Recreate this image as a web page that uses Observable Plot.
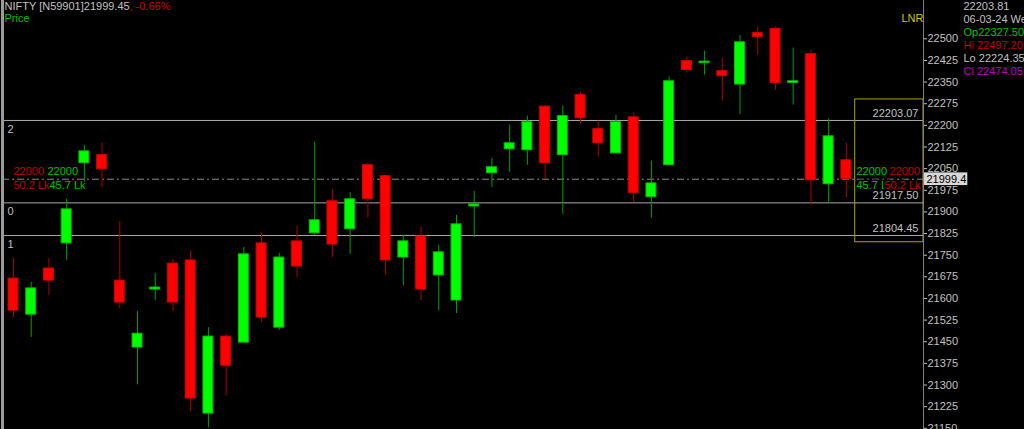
<!DOCTYPE html>
<html><head><meta charset="utf-8">
<script src="https://cdn.jsdelivr.net/npm/d3@7"></script>
<script src="https://cdn.jsdelivr.net/npm/@observablehq/plot@0.6"></script>
<style>html,body{margin:0;padding:0;background:#000;overflow:hidden}#chart svg{display:block}</style>
</head><body><div id="chart"></div>
<script>
// Daily candles (index 0..47)
const opens  = [21655,21530,21690,21777,22055,22083,21648,21416,21617,21707,21718,21187,21454,21433,21777,21485,21784,21812,21923,21826,22048,22010,21728,21801,21666,21579,21905,22020,22103,22100,22251,22083,22291,22173,22089,22214,21937,22048,22409,22402,22374,22327.5,22506,22520,22333,22433,21982,22065];
const highs  = [21725,21642,21725,21930,22117,22124,21853,21541,21673,21721,21753,21485,21461,21763,21812,21742,21836,22128,21964,21954,22055,22013,21805,21833,21770,21874,21957,22072,22187,22218,22255,22253,22301,22201,22221,22228,22062,22353,22423,22444,22419,22497.2,22527,22527,22454,22447,22208,22124];
const lows   = [21520,21451,21596,21718,21968,21971,21551,21287,21579,21541,21194,21138,21249,21431,21503,21475,21659,21805,21728,21739,21864,21666,21631,21579,21544,21534,21798,21971,22023,22048,21999,21878,22190,22076,22087,21919,21864,22046,22367,22360,22270,22224.35,22430,22308,22256,21909,21916,21933];
const closes = [21544,21621,21648,21895,22096,22034,21572,21464,21624,21572,21239,21454,21353,21739,21520,21728,21697,21857,21773,21930,21930,21718,21784,21617,21746,21843,21912,22041,22124,22197,22055,22218,22211,22124,22197,21951,21985,22339,22378,22407,22357,22474.05,22492,22333,22339,21996,22148,21999.45];

const levels = [22203.07, 21917.50, 21804.45];
const levelTags = ["2", "0", "1"];
const lastPrice = 21999.45;
const yTicks = [21150,21225,21300,21375,21450,21525,21600,21675,21750,21825,21900,21975,22050,22125,22200,22275,22350,22425,22500];
const boxRange = [21781, 22276];
const headerName = "NIFTY [N59901]21999.45";
const headerChange = ", -0.66%";
const infoLines = ["22203.81", "06-03-24 Wed", "Op22327.50", "Hi 22497.20", "Lo 22224.35", "Cl 22474.05"];
const infoColors = ["#c0c0c0", "#c0c0c0", "#00c000", "#c00000", "#c0c0c0", "#c000c0"];
const leftTags = [
  {t:"22000", c:"#c00000", dx:11, dy:-8},
  {t:"22000", c:"#00c000", dx:45, dy:-8},
  {t:"50.2 Lk", c:"#c00000", dx:11, dy:6},
  {t:"45.7 Lk", c:"#00c000", dx:47, dy:6}
];
const rightTags = [
  {t:"22000", c:"#00c000", dx:-67, dy:-8},
  {t:"22000", c:"#c00000", dx:-34, dy:-8},
  {t:"45.7 Lk", c:"#00c000", dx:-67, dy:6},
  {t:"50.2 Lk", c:"#c00000", dx:-39, dy:6}
];

const data = opens.map((o, i) => ({i, open:o, high:highs[i], low:lows[i], close:closes[i], up: closes[i] >= o}));
const xDomain = [-0.62, 51.354];
const hw = 0.28;

const tagMarks = (tags, anchor, sw) => tags.map(t => Plot.text([t], {
  y: () => lastPrice, text: "t", fill: "c", dx: t.dx, dy: t.dy, frameAnchor: anchor, textAnchor: "start",
  stroke: "#000", strokeWidth: sw, paintOrder: "stroke"}));

const chart = Plot.plot({
  width: 1024, height: 429,
  marginLeft: 2, marginRight: 101, marginTop: 0, marginBottom: 0,
  style: {background: "#000", fontFamily: "'Liberation Sans', Arial, sans-serif", fontSize: "11px", overflow: "visible"},
  x: {domain: xDomain, axis: null},
  y: {domain: [21150, 22500], range: [423.8, 34.3], axis: null},
  marks: [
    Plot.ruleY(levels, {stroke: "#a8a8a8", strokeWidth: 1}),
    Plot.ruleY([lastPrice], {stroke: "#8a8a8a", strokeDasharray: "7,3,2,3", strokeWidth: 1}),
    Plot.rect([boxRange], {x1: 47.5, x2: xDomain[1], y1: d => d[0], y2: d => d[1], fill: "none", stroke: "#b0a000", strokeWidth: 1}),
    Plot.ruleX(data, {x: "i", y1: "low", y2: "high", stroke: d => d.up ? "#00a000" : "#b00000", strokeWidth: 1}),
    Plot.rect(data, {x1: d => d.i - hw, x2: d => d.i + hw, y1: "open", y2: "close",
      fill: d => d.up ? "#00ff00" : "#ff0000", stroke: d => d.up ? "#00c000" : "#d00000", strokeWidth: 1}),
    Plot.text(levels, {y: d => d, text: d => d.toFixed(2), frameAnchor: "right", textAnchor: "end", dx: -5, dy: -7, fill: "#c0c0c0"}),
    Plot.text(levels, {y: d => d, text: (d, i) => levelTags[i], frameAnchor: "left", textAnchor: "start", dx: 5, dy: 9, fill: "#c0c0c0"}),
    ...tagMarks(leftTags, "left", 2),
    ...tagMarks(rightTags, "right", 3),
    Plot.frame({anchor: "right", stroke: "#808080"}),
    Plot.frame({anchor: "left", stroke: "#9a9a9a", strokeWidth: 3}),
    Plot.axisY(yTicks, {anchor: "right", tickSize: 3, tickPadding: 1, dy: 4, color: "#c0c0c0", tickFormat: d => String(d), fontSize: 11}),
    Plot.rect([lastPrice], {x1: xDomain[1] + 0.05, x2: xDomain[1] + 2.5, y1: d => d + 22, y2: d => d - 22, fill: "#d8d8d8"}),
    Plot.text([lastPrice], {y: d => d, text: d => (Math.floor(d * 10) / 10).toFixed(1), frameAnchor: "right", textAnchor: "start", dx: 3, fill: "#000"}),
    Plot.text([headerName], {frameAnchor: "top-left", dx: 2, dy: 2, fill: "#c0c0c0"}),
    Plot.text([headerChange], {frameAnchor: "top-left", dx: 127, dy: 2, fill: "#d00000"}),
    Plot.text(["Price"], {frameAnchor: "top-left", dx: 2, dy: 14, fill: "#00c000"}),
    Plot.text(["LNR"], {frameAnchor: "top-right", textAnchor: "start", dx: -22, dy: 14, fill: "#c8c800"}),
    ...infoLines.map((line, i) => Plot.text([line], {frameAnchor: "top-right", textAnchor: "start", dx: 40, dy: 2 + 13 * i, fill: infoColors[i]}))
  ]
});
document.getElementById("chart").appendChild(chart);
</script>
</body></html>
